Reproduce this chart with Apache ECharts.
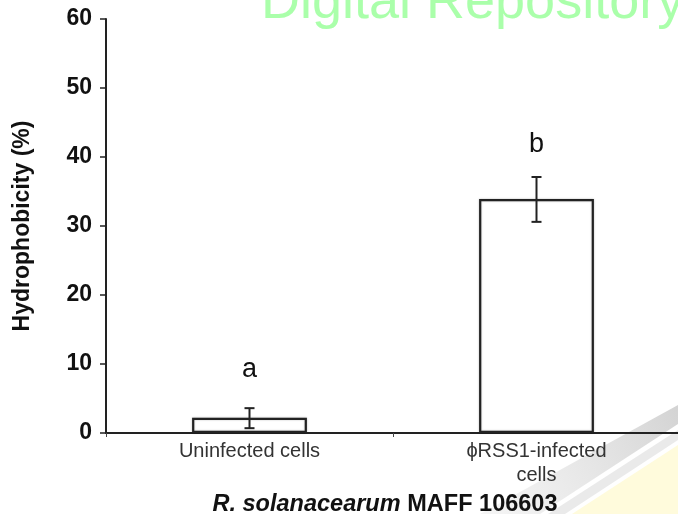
<!DOCTYPE html>
<html><head><meta charset="utf-8">
<script src="https://cdn.jsdelivr.net/npm/echarts@6/dist/echarts.min.js"></script>
<style>html,body{margin:0;padding:0;background:#fff}#c{width:678px;height:514px}</style>
</head><body><div id="c"></div>
<script>
const categories = ['Uninfected cells', 'ϕRSS1-infected\ncells'];
const values = [2.2, 33.9];
const errLow = [0.7, 30.6];
const errHigh = [3.6, 37.1];
const letters = ['a', 'b'];
const letterY = [9.2, 41.8];
const yTicks = [0, 10, 20, 30, 40, 50, 60];

const FONT = '"Liberation Sans", Arial, Helvetica, sans-serif';
const chart = echarts.init(document.getElementById('c'));
chart.setOption({
  animation: false,
  backgroundColor: '#fff',
  grid: { left: 106, right: -2, top: 19, bottom: 81, containLabel: false, outerBoundsMode: 'none' },
  graphic: [
    { type: 'polygon', silent: true, z: -1, shape: { points: [[678,405],[678,424],[540,514],[480,514]] },
      style: { fill: new echarts.graphic.LinearGradient(1, 0, 0, 1, [
        { offset: 0, color: 'rgba(200,200,200,0.8)' }, { offset: 1, color: 'rgba(230,230,230,0.4)' }]) } },
    { type: 'polygon', silent: true, z: -1, shape: { points: [[678,430],[678,440],[565,514],[548,514]] },
      style: { fill: 'rgba(220,220,220,0.6)' } },
    { type: 'polygon', silent: true, z: -1, shape: { points: [[678,445],[572,514],[678,514]] }, style: { fill: '#fffbdc' } },
    { type: 'text', silent: true, z: 100, left: 261, top: -24, style: { text: 'Digital Repository', font: '54px ' + FONT, fill: '#aaffaa' } }
  ],
  xAxis: {
    type: 'category', data: categories,
    axisLine: { lineStyle: { color: '#222', width: 2 } },
    axisTick: { show: true, length: 4, lineStyle: { color: '#444', width: 1 } },
    axisLabel: { color: '#333', fontSize: 20, fontFamily: FONT, margin: 6, lineHeight: 24 },
    name: '{i|R. solanacearum}  {b|MAFF 106603}',
    nameLocation: 'middle', nameGap: 60,
    nameTextStyle: { padding: [0, 16, 0, 0], rich: {
      i: { fontSize: 23.5, fontWeight: 'bold', fontStyle: 'italic', color: '#111', fontFamily: FONT },
      b: { fontSize: 23.5, fontWeight: 'bold', color: '#111', fontFamily: FONT } } }
  },
  yAxis: {
    type: 'value', min: 0, max: 60, interval: 10,
    axisLine: { show: true, lineStyle: { color: '#222', width: 2 } },
    axisTick: { show: true, length: 6, lineStyle: { color: '#222', width: 1.5 } },
    splitLine: { show: false },
    axisLabel: { color: '#111', fontSize: 23, fontWeight: 'bold', fontFamily: FONT, margin: 14,
      formatter: v => yTicks.includes(v) ? String(v) : '' },
    name: 'Hydrophobicity (%)', nameLocation: 'middle', nameGap: 72,
    nameTextStyle: { fontSize: 23, fontWeight: 'bold', color: '#111', fontFamily: FONT }
  },
  series: [
    { type: 'bar', data: values, barWidth: '40%',
      itemStyle: { color: '#fff', borderColor: '#222', borderWidth: 2.2, shadowColor: 'rgba(0,0,0,0.25)', shadowBlur: 2 } },
    { type: 'custom', z: 10,
      data: categories.map((c, i) => [i, errLow[i], errHigh[i]]),
      renderItem: (params, api) => {
        const lo = api.coord([api.value(0), api.value(1)]);
        const hi = api.coord([api.value(0), api.value(2)]);
        const w = 5;
        const st = { stroke: '#222', lineWidth: 2 };
        return { type: 'group', children: [
          { type: 'line', shape: { x1: lo[0], y1: lo[1], x2: hi[0], y2: hi[1] }, style: st },
          { type: 'line', shape: { x1: lo[0]-w, y1: lo[1], x2: lo[0]+w, y2: lo[1] }, style: st },
          { type: 'line', shape: { x1: hi[0]-w, y1: hi[1], x2: hi[0]+w, y2: hi[1] }, style: st }
        ] };
      } },
    { type: 'custom', z: 10,
      data: categories.map((c, i) => [i, letterY[i]]),
      renderItem: (params, api) => {
        const p = api.coord([api.value(0), api.value(1)]);
        return { type: 'text', x: p[0], y: p[1], style: { text: letters[params.dataIndex], fill: '#111', font: '27px ' + FONT, align: 'center', verticalAlign: 'middle' } };
      } }
  ]
});
</script></body></html>
